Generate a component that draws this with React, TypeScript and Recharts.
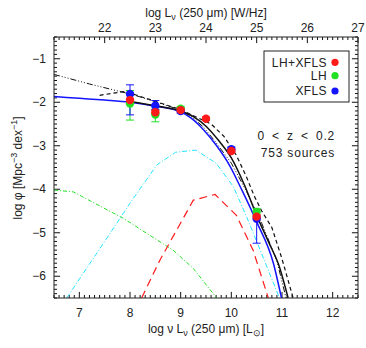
import React from "react";
import { ComposedChart, Line, Scatter, XAxis, YAxis, ErrorBar, ReferenceLine } from "recharts";

// ---- axis setup ----
const xDomain: [number, number] = [6.5, 12.5];
const xTopDomain: [number, number] = [21, 27];
const yDomain: [number, number] = [-6.5, -0.5];
const bottomMajor = [7, 8, 9, 10, 11, 12];
const topMajor = [22, 23, 24, 25, 26, 27];
const leftMajor = [-1, -2, -3, -4, -5, -6];

// ---- model curves ----
const blueFitX = [6.5, 7.0, 7.5, 8.0, 8.5, 9.0, 9.2, 9.45, 9.71, 9.97, 10.2, 10.5, 10.83, 10.99];
const blueFitY = [-1.87, -1.91, -1.95, -2.0, -2.09, -2.22, -2.36, -2.63, -3.0, -3.46, -4.0, -4.75, -5.7, -6.5];

const blackSolidX = [8.0, 8.5, 9.0, 9.25, 9.5, 9.75, 10.0, 10.25, 10.5, 10.75, 10.93, 11.12];
const blackSolidY = [-1.98, -2.08, -2.2, -2.33, -2.55, -2.88, -3.28, -3.88, -4.6, -5.25, -5.72, -6.5];

const blackDashDotX = [6.5, 7.2, 8.07, 8.53, 9.0, 9.2, 9.45, 9.7, 10.0, 10.3, 10.6, 10.9, 11.08];
const blackDashDotY = [-1.36, -1.58, -1.83, -2.0, -2.18, -2.32, -2.57, -2.93, -3.4, -4.05, -4.78, -5.65, -6.5];

const blackDashedX = [7.4, 7.9, 8.5, 9.0, 9.2, 9.6, 9.85, 10.1, 10.3, 10.45, 10.6, 10.8, 11.0, 11.22];
const blackDashedY = [-1.84, -1.75, -1.98, -2.17, -2.28, -2.5, -2.78, -3.22, -3.72, -4.15, -4.5, -4.88, -5.6, -6.5];

const cyanX = [6.75, 7.5, 8.0, 8.53, 8.9, 9.3, 9.7, 10.04, 10.3, 10.57, 10.95];
const cyanY = [-6.5, -5.2, -4.32, -3.44, -3.15, -3.1, -3.4, -3.94, -4.63, -5.4, -6.5];

const redDashX = [8.23, 8.59, 9.25, 9.68, 10.1, 10.43, 10.73];
const redDashY = [-6.5, -5.63, -4.25, -4.12, -4.6, -5.4, -6.5];

const greenDashDotX = [6.5, 6.88, 7.87, 8.85, 9.25, 9.71];
const greenDashDotY = [-4.02, -4.06, -4.67, -5.4, -5.82, -6.5];

// ---- measured points ----
const lhxX = [8.0, 8.5, 9.0, 9.5, 10.0, 10.5];
const lhxY = [-1.95, -2.23, -2.18, -2.38, -3.12, -4.63];
const lhxErrLo = [0.04, 0.04, 0.04, 0.04, 0.04, 0.04];
const lhxErrHi = [0.04, 0.04, 0.04, 0.04, 0.04, 0.04];

const lhX = [8.0, 8.5, 9.0, 10.5];
const lhY = [-2.03, -2.28, -2.15, -4.52];
const lhErrLo = [0.38, 0.17, 0.05, 0.08];
const lhErrHi = [0.3, 0.12, 0.05, 0.08];

const xflsX = [8.0, 8.5, 9.0, 10.0, 10.5];
const xflsY = [-1.81, -2.08, -2.2, -3.08, -4.68];
const xflsErrLo = [0.48, 0.09, 0.05, 0.05, 0.56];
const xflsErrHi = [0.21, 0.12, 0.05, 0.05, 0.05];

const zip = (xs: number[], ys: number[]) => xs.map((x, i) => ({ x, y: ys[i] }));
const zipErr = (xs: number[], ys: number[], lo: number[], hi: number[]) =>
  xs.map((x, i) => ({ x, y: ys[i], err: [lo[i], hi[i]] }));

const minor = (lo: number, hi: number, step: number) => {
  const out: number[] = [];
  const n = Math.round((hi - lo) / step);
  for (let i = 0; i <= n; i++) out.push(Math.round((lo + i * step) * 1000) / 1000);
  return out;
};

const bottomTicks = minor(6.5, 12.5, 0.1);
const topTicks = minor(21, 27, 0.1);
const leftTicks = minor(-6.5, -0.5, 0.1);

const isMajor = (v: number, majors: number[]) => majors.some((m) => Math.abs(m - v) < 1e-6);

const INK = "#222";
const TICK = "#111";
const FONT = "'Liberation Sans', Arial, sans-serif";

// tick lengths in data units (inward ticks, drawn as reference segments)
const X_MAJ = 0.12;
const X_MIN = 0.06;
const Y_MAJ = 0.14;
const Y_MIN = 0.07;

const BottomLabel = (p: any) => {
  const { x, y, payload } = p;
  if (!isMajor(payload.value, bottomMajor)) return <g />;
  return (
    <text x={x} y={y + 19} textAnchor="middle" fontSize={12} fontFamily={FONT} fill={INK}>
      {payload.value}
    </text>
  );
};

const TopLabel = (p: any) => {
  const { x, y, payload } = p;
  if (!isMajor(payload.value, topMajor)) return <g />;
  return (
    <text x={x} y={y - 5} textAnchor="middle" fontSize={12} fontFamily={FONT} fill={INK}>
      {payload.value}
    </text>
  );
};

const LeftLabel = (p: any) => {
  const { x, y, payload } = p;
  if (!isMajor(payload.value, leftMajor)) return <g />;
  return (
    <text x={x - 8} y={y + 4} textAnchor="end" fontSize={12} fontFamily={FONT} fill={INK}>
      {"\u2212" + Math.abs(payload.value)}
    </text>
  );
};

const common = {
  type: "number" as const,
  allowDataOverflow: true,
  interval: 0 as const,
  stroke: INK,
  tickSize: 0,
  tickMargin: 0,
  tickLine: false,
  axisLine: { stroke: INK, strokeWidth: 1 },
};

const dot = (color: string) => (p: any) =>
  p.cx == null ? <g /> : <circle cx={p.cx} cy={p.cy} r={4.2} fill={color} />;

const RED = "#ff1a1a";
const GREEN = "#22e022";
const BLUE = "#1414ff";
const CYAN = "#22e5ff";

const tickSeg = { stroke: TICK, strokeWidth: 1, ifOverflow: "visible" as const };

export default function App() {
  return (
    <div style={{ position: "absolute", left: 0, top: 0, width: 366, height: 348, background: "#fff" }}>
      <ComposedChart width={366} height={348} margin={{ top: 7, right: 0, bottom: 20, left: 14 }}>
        <XAxis {...common} xAxisId="b" dataKey="x" orientation="bottom" domain={xDomain} ticks={bottomTicks} tick={<BottomLabel />} height={30} />
        <XAxis {...common} xAxisId="t" dataKey="x" orientation="top" domain={xTopDomain} ticks={topTicks} tick={<TopLabel />} height={30} />
        <YAxis {...common} yAxisId="l" dataKey="y" orientation="left" domain={yDomain} ticks={leftTicks} tick={<LeftLabel />} width={40} />
        <YAxis {...common} yAxisId="r" dataKey="y" orientation="right" domain={yDomain} ticks={leftMajor} tick={false} width={8} />

        {bottomTicks.map((v) => (
          <ReferenceLine key={"b" + v} {...tickSeg} xAxisId="b" yAxisId="l"
            segment={[{ x: v, y: yDomain[0] }, { x: v, y: yDomain[0] + (isMajor(v, bottomMajor) ? Y_MAJ : Y_MIN) }]} />
        ))}
        {topTicks.map((v) => (
          <ReferenceLine key={"t" + v} {...tickSeg} xAxisId="t" yAxisId="l"
            segment={[{ x: v, y: yDomain[1] }, { x: v, y: yDomain[1] - (isMajor(v, topMajor) ? Y_MAJ : Y_MIN) }]} />
        ))}
        {leftTicks.map((v) => (
          <ReferenceLine key={"l" + v} {...tickSeg} xAxisId="b" yAxisId="l"
            segment={[{ x: xDomain[0], y: v }, { x: xDomain[0] + (isMajor(v, leftMajor) ? X_MAJ : X_MIN), y: v }]} />
        ))}
        {leftTicks.map((v) => (
          <ReferenceLine key={"r" + v} {...tickSeg} xAxisId="b" yAxisId="l"
            segment={[{ x: xDomain[1], y: v }, { x: xDomain[1] - (isMajor(v, leftMajor) ? X_MAJ : X_MIN), y: v }]} />
        ))}

        <Line xAxisId="b" yAxisId="l" data={zip(greenDashDotX, greenDashDotY)} dataKey="y" stroke={GREEN} strokeWidth={1} strokeDasharray="4 2 1 2" dot={false} isAnimationActive={false} type="linear" />
        <Line xAxisId="b" yAxisId="l" data={zip(cyanX, cyanY)} dataKey="y" stroke={CYAN} strokeWidth={1} strokeDasharray="5 2 1 2" dot={false} isAnimationActive={false} type="linear" />
        <Line xAxisId="b" yAxisId="l" data={zip(redDashX, redDashY)} dataKey="y" stroke={RED} strokeWidth={1.2} strokeDasharray="8 5" dot={false} isAnimationActive={false} type="linear" />
        <Line xAxisId="b" yAxisId="l" data={zip(blackDashDotX, blackDashDotY)} dataKey="y" stroke="#111" strokeWidth={1} strokeDasharray="6 2 1 2 1 2 1 2" dot={false} isAnimationActive={false} type="linear" />
        <Line xAxisId="b" yAxisId="l" data={zip(blackDashedX, blackDashedY)} dataKey="y" stroke="#111" strokeWidth={1.2} strokeDasharray="4 3" dot={false} isAnimationActive={false} type="linear" />
        <Line xAxisId="b" yAxisId="l" data={zip(blueFitX, blueFitY)} dataKey="y" stroke={BLUE} strokeWidth={1.5} dot={false} isAnimationActive={false} type="monotone" />
        <Line xAxisId="b" yAxisId="l" data={zip(blackSolidX, blackSolidY)} dataKey="y" stroke="#111" strokeWidth={1.5} dot={false} isAnimationActive={false} type="monotone" />

        <Scatter xAxisId="b" yAxisId="l" data={zipErr(lhX, lhY, lhErrLo, lhErrHi)} dataKey="y" fill={GREEN} shape={dot(GREEN)} isAnimationActive={false}>
          <ErrorBar dataKey="err" direction="y" width={4} stroke={GREEN} strokeWidth={1} />
        </Scatter>
        <Scatter xAxisId="b" yAxisId="l" data={zipErr(xflsX, xflsY, xflsErrLo, xflsErrHi)} dataKey="y" fill={BLUE} shape={dot(BLUE)} isAnimationActive={false}>
          <ErrorBar dataKey="err" direction="y" width={4} stroke={BLUE} strokeWidth={1} />
        </Scatter>
        <Scatter xAxisId="b" yAxisId="l" data={zipErr(lhxX, lhxY, lhxErrLo, lhxErrHi)} dataKey="y" fill={RED} shape={dot(RED)} isAnimationActive={false}>
          <ErrorBar dataKey="err" direction="y" width={4} stroke={RED} strokeWidth={1} />
        </Scatter>
      </ComposedChart>

      <svg
        width={366}
        height={348}
        style={{ position: "absolute", left: 0, top: 0, pointerEvents: "none" }}
        fontFamily={FONT}
        fill={INK}
      >
        <text x={206} y={17} textAnchor="middle" fontSize={12}>
          log L<tspan dy={3} fontSize={9}>ν</tspan>
          <tspan dy={-3}> (250 μm) [W/Hz]</tspan>
        </text>
        <text x={206} y={333} textAnchor="middle" fontSize={12}>
          log ν L<tspan dy={3} fontSize={9}>ν</tspan>
          <tspan dy={-3}> (250 μm) [L</tspan>
          <tspan dy={3} fontSize={9}>⊙</tspan>
          <tspan dy={-3}>]</tspan>
        </text>
        <text x={0} y={0} transform="translate(22,168) rotate(-90)" textAnchor="middle" fontSize={12}>
          log φ [Mpc<tspan dy={-5} fontSize={9}>−3</tspan>
          <tspan dy={5}> dex</tspan>
          <tspan dy={-5} fontSize={9}>−1</tspan>
          <tspan dy={5}>]</tspan>
        </text>

        <rect x={264} y={51} width={85} height={51} fill="#fff" stroke={INK} strokeWidth={1} />
        <text x={327} y={66.5} textAnchor="end" fontSize={12} letterSpacing={0.4}>LH+XFLS</text>
        <text x={327} y={80} textAnchor="end" fontSize={12} letterSpacing={0.4}>LH</text>
        <text x={327} y={95} textAnchor="end" fontSize={12} letterSpacing={0.4}>XFLS</text>
        <circle cx={335} cy={62.3} r={3.6} fill={RED} />
        <circle cx={335} cy={75.7} r={3.6} fill={GREEN} />
        <circle cx={335} cy={91} r={3.6} fill={BLUE} />

        <text x={335} y={140} textAnchor="end" fontSize={12} letterSpacing={0.8} wordSpacing={3}>0 &lt; z &lt; 0.2</text>
        <text x={335} y={157} textAnchor="end" fontSize={12} letterSpacing={0.8}>753 sources</text>
      </svg>
    </div>
  );
}
